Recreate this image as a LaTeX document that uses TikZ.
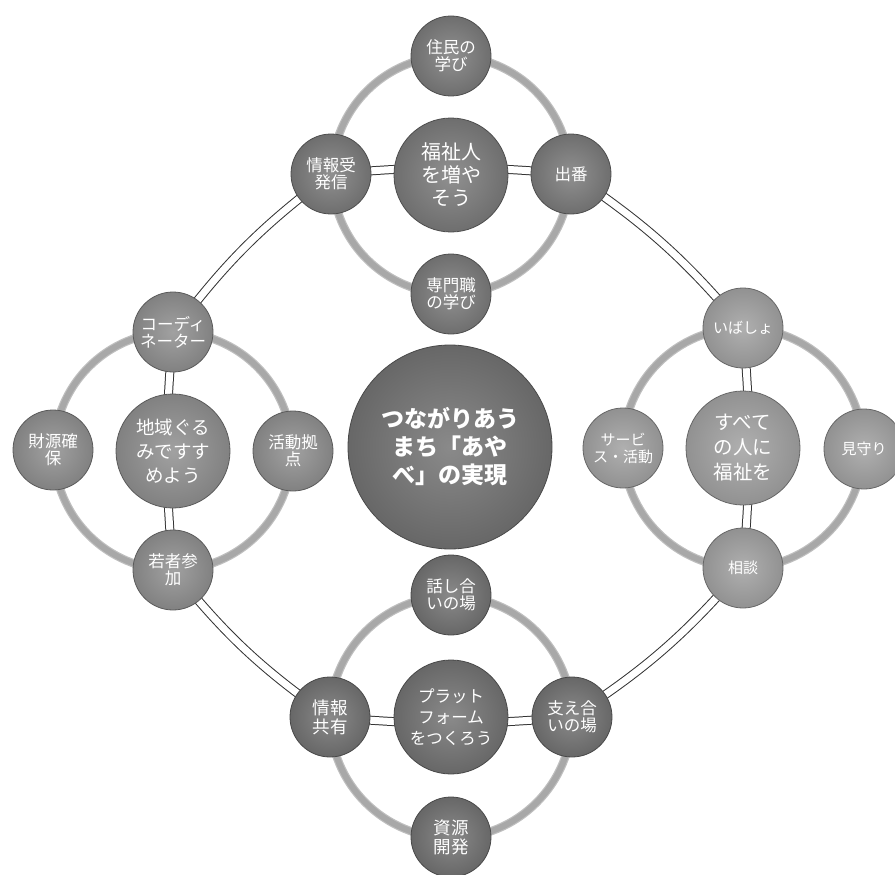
\documentclass[tikz,border=0pt]{standalone}
\usepackage{fontspec}
\newfontfamily\jp{Noto Sans CJK JP}
\usetikzlibrary{backgrounds}
\definecolor{ctop}{gray}{0.47}
\definecolor{cleft}{gray}{0.55}
\definecolor{cright}{gray}{0.62}
\definecolor{cbot}{gray}{0.44}
\definecolor{cmain}{gray}{0.44}
\begin{document}
\begin{tikzpicture}[x=1pt,y=1pt,
  bubble/.style={circle, draw=#1!65!black, line width=0.8pt, inner color=#1!82!white, outer color=#1!92!black, text=white, align=center, inner sep=0pt},
  sat/.style={bubble=#1, minimum size=80pt, font=\jp\fontsize{16.5}{17}\selectfont},
  hub/.style={bubble=#1, minimum size=114pt, font=\jp\fontsize{20}{23}\selectfont},
  core/.style={bubble=cmain, minimum size=204pt, font=\jp\bfseries\fontsize{23}{28}\selectfont},
  tube/.style={draw=black!80, line width=1pt, double=white, double distance=7pt},
  ring/.style={draw=gray!50, line width=1.2pt, double=gray!68, double distance=6pt}
]
\useasboundingbox (0,0) rectangle (895,-875);

% central
\node[core] (M) at (450,-447) {つながりあう\\まち「あや\\べ」の実現};

% top cluster
\node[hub=ctop] (T) at (451,-175) {福祉人\\を増や\\そう};
\node[sat=ctop] (T1) at (451,-56) {住民の\\学び};
\node[sat=ctop] (T2) at (331,-174) {情報受\\発信};
\node[sat=ctop] (T3) at (571,-174) {出番};
\node[sat=ctop] (T4) at (451,-294) {専門職\\の学び};

% left cluster
\node[hub=cleft, font=\jp\fontsize{18.5}{24}\selectfont] (L) at (173,-451) {地域ぐる\\みですす\\めよう};
\node[sat=cleft] (L1) at (173,-332) {コーディ\\ネーター};
\node[sat=cleft] (L2) at (53,-450) {財源確\\保};
\node[sat=cleft] (L3) at (293,-451) {活動拠\\点};
\node[sat=cleft] (L4) at (173,-570) {若者参\\加};

% right cluster
\node[hub=cright, font=\jp\fontsize{19.5}{25}\selectfont] (R) at (743,-448) {すべて\\の人に\\福祉を};
\node[sat=cright, font=\jp\fontsize{15}{17}\selectfont] (R1) at (743,-328) {いばしょ};
\node[sat=cright, font=\jp\fontsize{15}{17}\selectfont] (R2) at (623,-448) {サービ\\ス・活動};
\node[sat=cright, font=\jp\fontsize{15}{17}\selectfont] (R3) at (864,-449) {見守り};
\node[sat=cright, font=\jp\fontsize{15}{17}\selectfont] (R4) at (743,-568) {相談};

% bottom cluster
\node[hub=cbot, font=\jp\fontsize{16.5}{21}\selectfont] (B) at (451,-717) {プラット\\フォーム\\をつくろう};
\node[sat=cbot] (B1) at (451,-595) {話し合\\いの場};
\node[sat=cbot, font=\jp\fontsize{17.5}{19}\selectfont] (B2) at (330,-717) {情報\\共有};
\node[sat=cbot] (B3) at (572,-717) {支え合\\いの場};
\node[sat=cbot, font=\jp\fontsize{17.5}{19}\selectfont] (B4) at (451,-837) {資源\\開発};

\begin{scope}[on background layer]
  % rings
  \draw[ring] (T.center) circle[radius=119];
  \draw[ring] (L.center) circle[radius=119];
  \draw[ring] (R.center) circle[radius=120];
  \draw[ring] (B.center) circle[radius=121];
  % big loop
  \draw[tube] (T3.center) to[bend right=5] (T2.center);
  \draw[tube] (T2.center) to[bend right=8] (L1.center);
  \draw[tube] (L1.center) to[bend right=5] (L4.center);
  \draw[tube] (L4.center) to[bend right=8] (B2.center);
  \draw[tube] (B2.center) to[bend right=5] (B3.center);
  \draw[tube] (B3.center) to[bend right=8] (R4.center);
  \draw[tube] (R4.center) to[bend right=5] (R1.center);
  \draw[tube] (R1.center) to[bend right=8] (T3.center);
\end{scope}
\end{tikzpicture}
\end{document}
